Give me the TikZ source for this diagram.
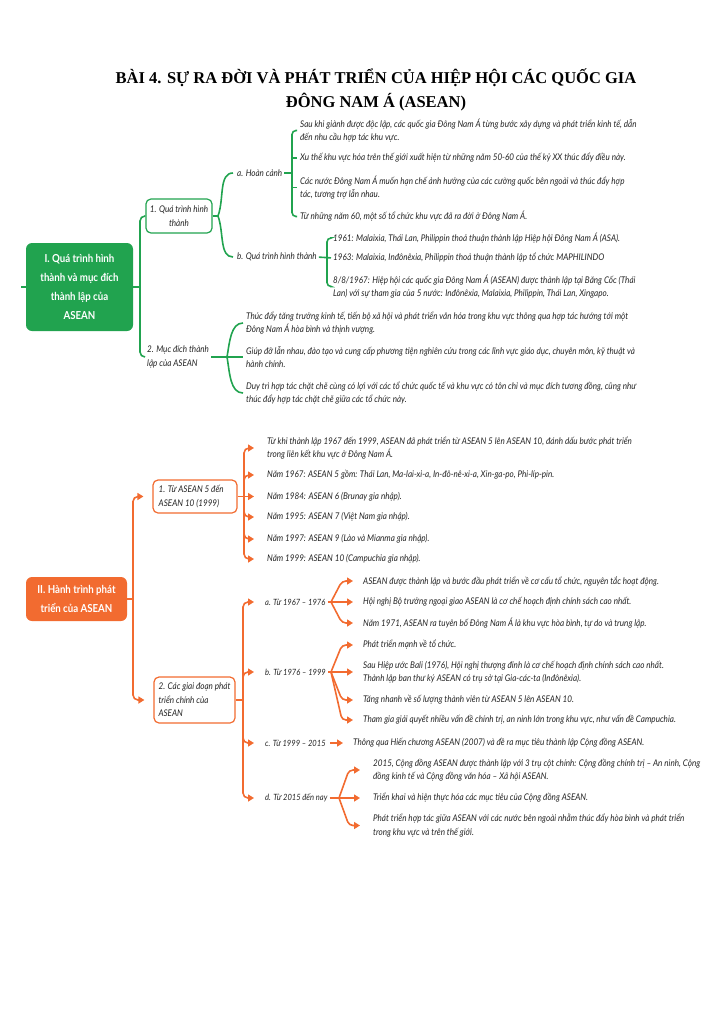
\documentclass[tikz,border=0pt]{standalone}
\usepackage{fontspec}
\setmainfont{Lato}
\newfontfamily\condfont[FakeStretch=0.88]{Lato}
\newfontfamily\titlefont{Liberation Serif}
\usetikzlibrary{arrows.meta}
\definecolor{mindgreen}{RGB}{33,163,79}
\definecolor{mindorange}{RGB}{242,107,48}
\definecolor{mindtext}{RGB}{35,35,35}
\begin{document}
\begin{tikzpicture}[x=1pt,y=-1pt]
	\tikzstyle{leaf}=[anchor=west,inner sep=0,align=left,text=mindtext,font={\condfont\itshape\fontsize{9.2}{13.5}\selectfont}]
	\tikzstyle{period}=[leaf,font={\condfont\itshape\fontsize{8.6}{13.5}\selectfont}]
	\tikzstyle{mainbox}=[rounded corners=6pt,inner sep=0,align=center,text=white,font={\condfont\bfseries\fontsize{11}{19}\selectfont}]
	\tikzstyle{subbox}=[rounded corners=5pt,line width=1.2pt,fill=white,inner xsep=4pt,inner ysep=3pt,text=mindtext,font={\condfont\itshape\fontsize{9.2}{13.5}\selectfont}]
	\tikzstyle{gline}=[draw=mindgreen,line width=1.6pt,rounded corners=5pt]
	\tikzstyle{oplain}=[draw=mindorange,line width=1.6pt,rounded corners=5pt]
	\tikzstyle{oarrow}=[oplain,-{Triangle[length=6pt,width=7pt]}]
	
	\useasboundingbox (0,0) rectangle (728,1010);
	
	\node[align=center,font={\titlefont\bfseries\fontsize{16.5}{24}\selectfont}] (title) at (376,90) {BÀI 4. SỰ RA ĐỜI VÀ PHÁT TRIỂN CỦA HIỆP HỘI CÁC QUỐC GIA\\ĐÔNG NAM Á (ASEAN)};
	
	% I. qua trinh hinh thanh
	\node[mainbox,fill=mindgreen,minimum width=107,minimum height=88] (g0) at (79.5,287) {I. Quá trình hình\\thành và mục đích\\thành lập của\\ASEAN};
	\node[subbox,draw=mindgreen,align=center,minimum width=66,minimum height=34] (g1) at (179,216) {1. Quá trình hình\\thành};
	\node[leaf] (g2) at (147,357) {2. Mục đích thành\\lập của ASEAN};
	\coordinate (gl) at (21,287);
	\coordinate (gtr) at (140,287);
	\draw[gline] (gl) -- (g0.west);
	\draw[gline] (g0.east) -- (gtr);
	\draw[gline,shorten >=2pt] (g1.west) -| (gtr) |- (g2.west);
	
	\node[leaf] (ga) at (237,173) {a. Hoàn cảnh};
	\node[leaf] (gb) at (237,257) {b. Quá trình hình thành};
	\coordinate (g1j) at (218,216);
	\draw[gline] (g1.east) -- (g1j);
	\draw[gline,shorten >=4pt] (g1j) to[out=70,in=180] (ga.west);
	\draw[gline,shorten >=4pt] (g1j) to[out=-70,in=180] (gb.west);
	
	\node[leaf] (ga1) at (300,130.5) {Sau khi giành được độc lập, các quốc gia Đông Nam Á từng bước xây dựng và phát triển kinh tế, dẫn\\đến nhu cầu hợp tác khu vực.};
	\node[leaf] (ga2) at (300,158) {Xu thế khu vực hóa trên thế giới xuất hiện từ những năm 50-60 của thế kỷ XX thúc đẩy điều này.};
	\node[leaf] (ga3) at (300,187.5) {Các nước Đông Nam Á muốn hạn chế ảnh hưởng của các cường quốc bên ngoài và thúc đẩy hợp\\tác, tương trợ lẫn nhau.};
	\node[leaf] (ga4) at (300,216.5) {Từ những năm 60, một số tổ chức khu vực đã ra đời ở Đông Nam Á.};
	\coordinate (gaj) at (292,173);
	\draw[gline,shorten <=2pt] (ga.east) -- (gaj);
	\draw[gline,rounded corners=4pt,shorten <=3pt,shorten >=3pt] (ga1.west) -| (gaj) |- (ga4.west);
	\draw[gline,shorten <=3pt] (ga2.west) -- (ga2.west -| gaj);
	\draw[gline,shorten <=3pt] (ga3.west) -- (ga3.west -| gaj);
	
	\node[leaf] (gb1) at (333,238) {1961: Malaixia, Thái Lan, Philippin thoả thuận thành lập Hiệp hội Đông Nam Á (ASA).};
	\node[leaf] (gb2) at (333,258) {1963: Malaixia, Inđônêxia, Philippin thoả thuận thành lập tổ chức MAPHILINDO};
	\node[leaf] (gb3) at (333,286.5) {8/8/1967: Hiệp hội các quốc gia Đông Nam Á (ASEAN) được thành lập tại Băng Cốc (Thái\\Lan) với sự tham gia của 5 nước: Inđônêxia, Malaixia, Philippin, Thái Lan, Xingapo.};
	\coordinate (gbj) at (327,258);
	\draw[gline,shorten <=2pt,shorten >=2pt] (gb.east) -- (gb2.west);
	\draw[gline,rounded corners=4pt,shorten <=3pt,shorten >=3pt] (gb1.west) -| (gbj) |- (gb3.west);
	
	\node[leaf] (gp1) at (246,323) {Thúc đẩy tăng trưởng kinh tế, tiến bộ xã hội và phát triển văn hóa trong khu vực thông qua hợp tác hướng tới một\\Đông Nam Á hòa bình và thịnh vượng.};
	\node[leaf] (gp2) at (246,357) {Giúp đỡ lẫn nhau, đào tạo và cung cấp phương tiện nghiên cứu trong các lĩnh vực giáo dục, chuyên môn, kỹ thuật và\\hành chính.};
	\node[leaf] (gp3) at (246,393) {Duy trì hợp tác chặt chẽ cùng có lợi với các tổ chức quốc tế và khu vực có tôn chỉ và mục đích tương đồng, cũng như\\thúc đẩy hợp tác chặt chẽ giữa các tổ chức này.};
	\coordinate (g2j) at (227,357);
	\draw[gline,shorten <=2pt] (g2.east) -- (g2j);
	\draw[gline,shorten >=3pt] (g2j) to[out=80,in=180] (gp1.west);
	\draw[gline,shorten >=3pt] (g2j) -- (gp2.west);
	\draw[gline,shorten >=3pt] (g2j) to[out=-80,in=180] (gp3.west);
	
	% II. hanh trinh phat trien
	\node[mainbox,fill=mindorange,minimum width=101,minimum height=44] (o0) at (76.5,599) {II. Hành trình phát\\triển của ASEAN};
	\node[subbox,draw=mindorange,align=left,minimum width=84,minimum height=33] (o1) at (195,496.5) {1. Từ ASEAN 5 đến\\ASEAN 10 (1999)\hspace*{12pt}};
	\node[subbox,draw=mindorange,align=left,minimum width=81,minimum height=46] (o2) at (194.5,700) {2. Các giai đoạn phát\\triển chính của\\ASEAN};
	\coordinate (otr) at (133,599);
	\draw[oplain] (o0.east) -- (otr);
	\draw[oarrow,shorten >=9pt] (otr) |- (o1.west);
	\draw[oarrow,shorten >=9pt] (otr) |- (o2.west);
	
	\node[leaf] (oi1) at (267,448) {Từ khi thành lập 1967 đến 1999, ASEAN đã phát triển từ ASEAN 5 lên ASEAN 10, đánh dấu bước phát triển\\trong liên kết khu vực ở Đông Nam Á.};
	\node[leaf] (oi2) at (267,475) {Năm 1967: ASEAN 5 gồm: Thái Lan, Ma-lai-xi-a, In-đô-nê-xi-a, Xin-ga-po, Phi-líp-pin.};
	\node[leaf] (oi3) at (267,496.5) {Năm 1984: ASEAN 6 (Brunay gia nhập).};
	\node[leaf] (oi4) at (267,517) {Năm 1995: ASEAN 7 (Việt Nam gia nhập).};
	\node[leaf] (oi5) at (267,539) {Năm 1997: ASEAN 9 (Lào và Mianma gia nhập).};
	\node[leaf] (oi6) at (267,559) {Năm 1999: ASEAN 10 (Campuchia gia nhập).};
	\coordinate (o1j) at (244,496.5);
	\draw[oplain] (o1.east) -- (o1j);
	\draw[oarrow,shorten >=13pt] (o1j) |- (oi1.west);
	\draw[oarrow,shorten >=13pt] (o1j) |- (oi2.west);
	\draw[oarrow,shorten >=13pt] (o1j) -- (oi3.west);
	\draw[oarrow,shorten >=13pt] (o1j) |- (oi4.west);
	\draw[oarrow,shorten >=13pt] (o1j) |- (oi5.west);
	\draw[oarrow,shorten >=13pt] (o1j) |- (oi6.west);
	
	\node[period] (oa) at (265,602) {a. Từ 1967 – 1976};
	\node[period] (ob) at (265,672) {b. Từ 1976 – 1999};
	\node[period] (oc) at (265,743) {c. Từ 1999 – 2015};
	\node[period] (od) at (265,798) {d. Từ 2015 đến nay};
	\coordinate (o2j) at (243,700);
	\draw[oplain] (o2.east) -- (o2j);
	\draw[oarrow,shorten >=11pt] (o2j) |- (oa.west);
	\draw[oarrow,shorten >=11pt] (o2j) |- (ob.west);
	\draw[oarrow,shorten >=11pt] (o2j) |- (oc.west);
	\draw[oarrow,shorten >=11pt] (o2j) |- (od.west);
	
	\node[leaf] (oa1) at (363,581) {ASEAN được thành lập và bước đầu phát triển về cơ cấu tổ chức, nguyên tắc hoạt động.};
	\node[leaf] (oa2) at (363,602) {Hội nghị Bộ trưởng ngoại giao ASEAN là cơ chế hoạch định chính sách cao nhất.};
	\node[leaf] (oa3) at (363,623) {Năm 1971, ASEAN ra tuyên bố Đông Nam Á là khu vực hòa bình, tự do và trung lập.};
	\coordinate (oaj) at (331,602);
	\draw[oplain,shorten <=2pt] (oa.east) -- (oaj);
	\draw[oarrow,rounded corners=4pt,shorten >=10pt] (oaj) -- ([xshift=-21pt]oa1.west) -- (oa1.west);
	\draw[oarrow,shorten >=10pt] (oaj) -- (oa2.west);
	\draw[oarrow,rounded corners=4pt,shorten >=10pt] (oaj) -- ([xshift=-21pt]oa3.west) -- (oa3.west);
	
	\node[leaf] (ob1) at (363,645) {Phát triển mạnh về tổ chức.};
	\node[leaf] (ob2) at (363,672) {Sau Hiệp ước Bali (1976), Hội nghị thượng đỉnh là cơ chế hoạch định chính sách cao nhất.\\Thành lập ban thư ký ASEAN có trụ sở tại Gia-các-ta (Inđônêxia).};
	\node[leaf] (ob3) at (363,700) {Tăng nhanh về số lượng thành viên từ ASEAN 5 lên ASEAN 10.};
	\node[leaf] (ob4) at (363,720) {Tham gia giải quyết nhiều vấn đề chính trị, an ninh lớn trong khu vực, như vấn đề Campuchia.};
	\coordinate (obj) at (331,672);
	\draw[oplain,shorten <=2pt] (ob.east) -- (obj);
	\draw[oarrow,rounded corners=4pt,shorten >=10pt] (obj) -- ([xshift=-21pt]ob1.west) -- (ob1.west);
	\draw[oarrow,shorten >=10pt] (obj) -- (ob2.west);
	\draw[oarrow,rounded corners=4pt,shorten >=10pt] (obj) -- ([xshift=-21pt]ob3.west) -- (ob3.west);
	\draw[oarrow,rounded corners=4pt,shorten >=10pt] (obj) -- ([xshift=-21pt]ob4.west) -- (ob4.west);
	
	\node[leaf] (oc1) at (353,743) {Thông qua Hiến chương ASEAN (2007) và đề ra mục tiêu thành lập Cộng đồng ASEAN.};
	\draw[oarrow,shorten <=4pt,shorten >=10pt] (oc.east) -- (oc1.west);
	
	\node[leaf] (od1) at (373,770) {2015, Cộng đồng ASEAN được thành lập với 3 trụ cột chính: Cộng đồng chính trị – An ninh, Cộng\\đồng kinh tế và Cộng đồng văn hóa – Xã hội ASEAN.};
	\node[leaf] (od2) at (373,798) {Triển khai và hiện thực hóa các mục tiêu của Cộng đồng ASEAN.};
	\node[leaf] (od3) at (373,825.5) {Phát triển hợp tác giữa ASEAN với các nước bên ngoài nhằm thúc đẩy hòa bình và phát triển\\trong khu vực và trên thế giới.};
	\coordinate (odj) at (339,798);
	\draw[oplain,shorten <=2pt] (od.east) -- (odj);
	\draw[oarrow,rounded corners=4pt,shorten >=13pt] (odj) -- ([xshift=-24pt]od1.west) -- (od1.west);
	\draw[oarrow,shorten >=13pt] (odj) -- (od2.west);
	\draw[oarrow,rounded corners=4pt,shorten >=13pt] (odj) -- ([xshift=-24pt]od3.west) -- (od3.west);
\end{tikzpicture}
\end{document}
